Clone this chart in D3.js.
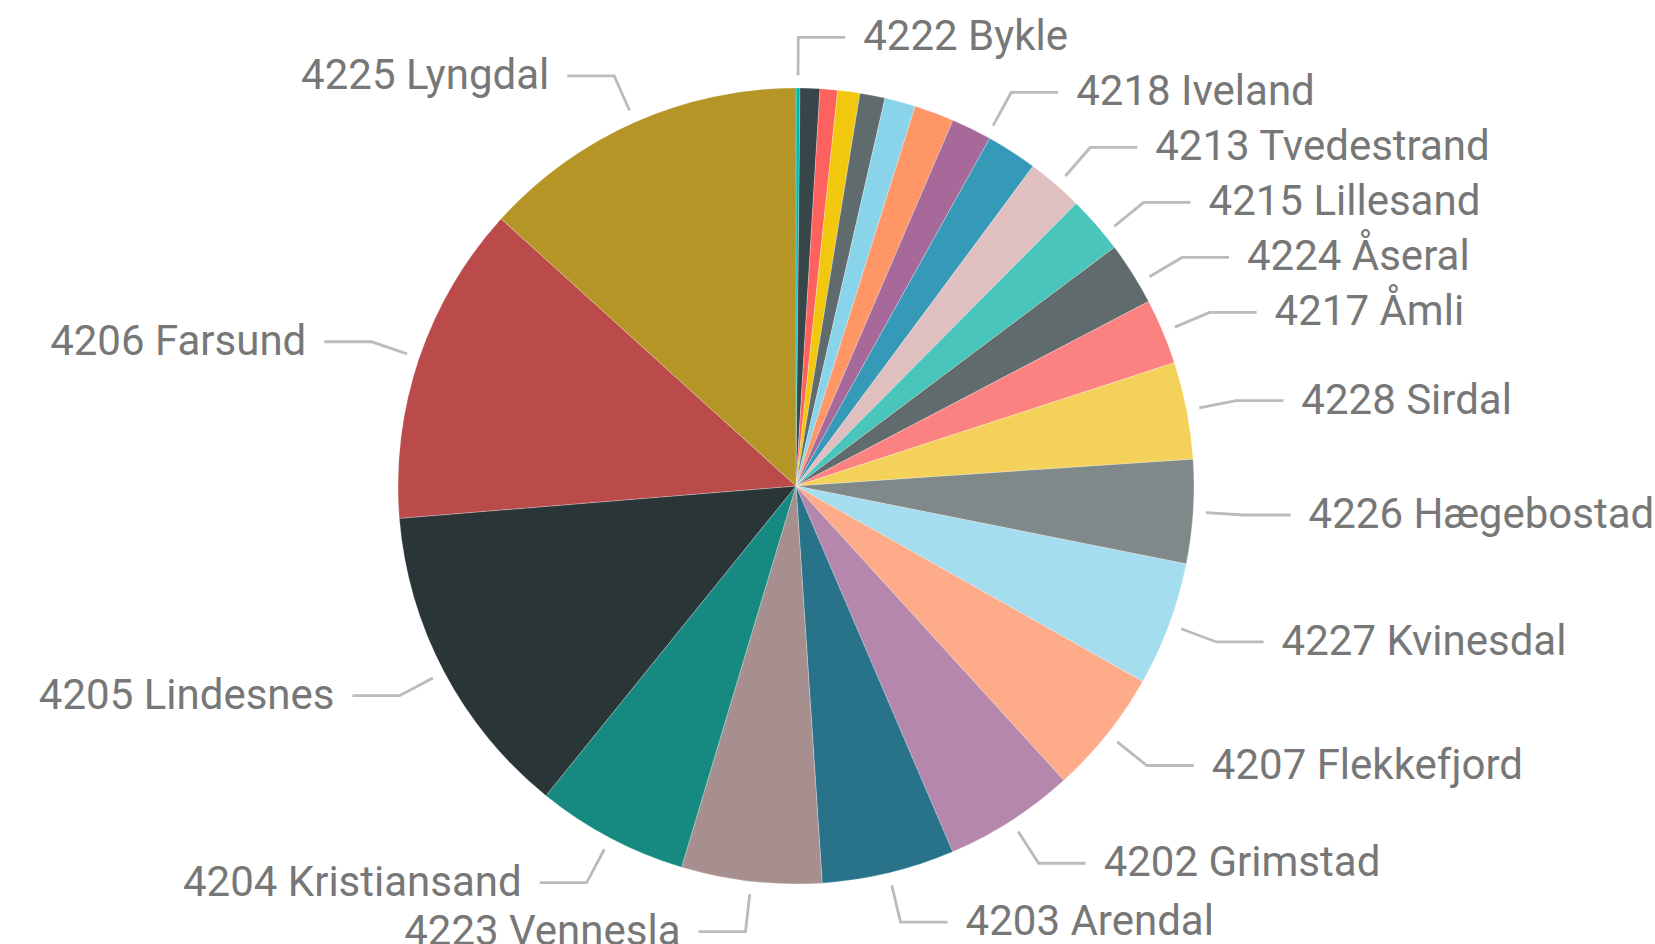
<!DOCTYPE html>
<html>
<head>
<meta charset="utf-8">
<script src="https://cdn.jsdelivr.net/npm/d3@7/dist/d3.min.js"></script>
<style>
	body { margin: 0; background: #fff; }
	.slice-label { font-family: Roboto, "DejaVu Sans", sans-serif; font-size: 42px; fill: #777; }
</style>
</head>
<body>
<div id="c"></div>
<script>
// slices in drawing order, clockwise from 12 o'clock
var municipalities = ["4222 Bykle", "4221 Valle", "4220 Bygland", "4212 Vegårshei", "4211 Gjerstad",
	"4219 Evje og Hornnes", "4216 Birkenes", "4218 Iveland", "4214 Froland", "4213 Tvedestrand",
	"4215 Lillesand", "4224 Åseral", "4217 Åmli", "4228 Sirdal", "4226 Hægebostad", "4227 Kvinesdal",
	"4207 Flekkefjord", "4202 Grimstad", "4203 Arendal", "4223 Vennesla", "4204 Kristiansand",
	"4205 Lindesnes", "4206 Farsund", "4225 Lyngdal"];

var shares = [0.16, 0.80, 0.71, 0.90, 1.02, 1.25, 1.61, 1.64, 2.06, 2.28, 2.33, 2.56, 2.66,
	3.94, 4.21, 5.03, 5.08, 5.31, 5.39, 5.69, 6.17, 12.89, 13.01, 13.28];

var colours = ["#01B8AA", "#374649", "#FD625E", "#F2C80F", "#5F6B6D", "#8AD4EB", "#FE9666",
	"#A66999", "#3599B8", "#DFBFBF", "#4AC5BB", "#5F6B6D", "#FB8281", "#F4D25A", "#7F898A",
	"#A4DDEE", "#FDAB89", "#B687AC", "#28738A", "#A78F8F", "#168980", "#293537", "#BB4A4A", "#B59525"];

// labels power bi managed to fit
var labelled = ["4222 Bykle", "4218 Iveland", "4213 Tvedestrand", "4215 Lillesand", "4224 Åseral",
	"4217 Åmli", "4228 Sirdal", "4226 Hægebostad", "4227 Kvinesdal", "4207 Flekkefjord",
	"4202 Grimstad", "4203 Arendal", "4223 Vennesla", "4204 Kristiansand", "4205 Lindesnes",
	"4206 Farsund", "4225 Lyngdal"];

var width = 1655;
var height = 944;
var cx = 796, cy = 486;
var radius = 398;
var r_start = radius * 1.032;
var r_elbow = radius * 1.127;
var tail = 47;
var text_gap = 18;
var gap_right = 55, gap_left = 46;

var data = [];
for (var i = 0; i < municipalities.length; i++) {
	data.push({ name: municipalities[i], value: shares[i], colour: colours[i] });
}

var svg = d3.select("#c").append("svg")
	.attr("width", width)
	.attr("height", height);

var pie = d3.pie()
	.sort(null)
	.value(function(d) { return d.value; });

var arc = d3.arc()
	.innerRadius(0)
	.outerRadius(radius);

var arcs = pie(data);

var g = svg.append("g")
	.attr("transform", "translate(" + cx + "," + cy + ")");

g.selectAll("path")
	.data(arcs)
	.enter()
	.append("path")
	.attr("d", arc)
	.attr("fill", function(d) { return d.data.colour; })
	.attr("stroke", "#fff")
	.attr("stroke-width", 0.5)
	.attr("stroke-opacity", 0.5);

// label placement: natural spot on the elbow circle, then push apart vertically
var labels = arcs.filter(function(d) { return labelled.indexOf(d.data.name) >= 0; })
	.map(function(d) {
		var mid = (d.startAngle + d.endAngle) / 2;
		return { d: d, mid: mid, right: mid < Math.PI, y: -r_elbow * Math.cos(mid) };
	});

[true, false].forEach(function(side) {
	var gap = side ? gap_right : gap_left;
	var list = labels.filter(function(l) { return l.right == side; })
		.sort(function(a, b) { return a.y - b.y; });
	for (var j = 1; j < list.length; j++) {
		if (list[j].y - list[j - 1].y < gap) list[j].y = list[j - 1].y + gap;
	}
});

labels.forEach(function(l) {
	var c = Math.max(-1, Math.min(1, -l.y / r_elbow));
	var a = l.right ? Math.acos(c) : 2 * Math.PI - Math.acos(c);
	l.x0 = r_start * Math.sin(a);
	l.y0 = -r_start * Math.cos(a);
	l.x1 = r_elbow * Math.sin(a);
	l.y1 = -r_elbow * Math.cos(a);
	l.x2 = l.x1 + (l.right ? tail : -tail);
});

g.selectAll(".leader")
	.data(labels)
	.enter()
	.append("polyline")
	.attr("class", "leader")
	.attr("points", function(l) {
		return [[l.x0, l.y0], [l.x1, l.y1], [l.x2, l.y1]].join(" ");
	})
	.attr("fill", "none")
	.attr("stroke", "#bbb")
	.attr("stroke-width", 2.8);

g.selectAll(".slice-label")
	.data(labels)
	.enter()
	.append("text")
	.attr("class", "slice-label")
	.attr("x", function(l) { return l.x2 + (l.right ? text_gap : -text_gap); })
	.attr("y", function(l) { return l.y1 + 13; })
	.attr("text-anchor", function(l) { return l.right ? "start" : "end"; })
	.text(function(l) { return l.d.data.name; });
</script>
</body>
</html>
